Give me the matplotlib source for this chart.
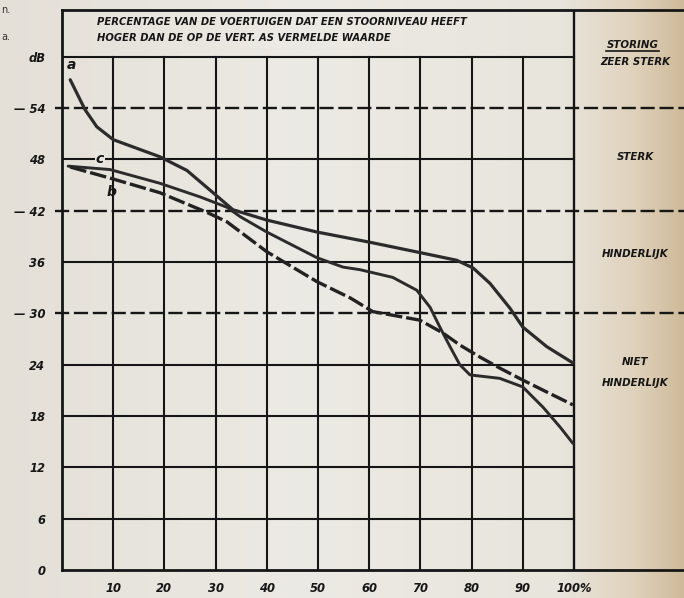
import numpy as np
import matplotlib
matplotlib.use("Agg")
import matplotlib.pyplot as plt

# waarden
pct_a = [1.6, 4.5, 6.8, 10, 15, 19.1, 24.4, 29.5, 33.4, 40, 49.8, 60.2, 69.9, 77.1, 80.3, 83.6, 87.5, 90, 94.7, 99.8]
db_a = [57.3, 53.8, 51.8, 50.3, 49.2, 48.3, 46.7, 44.1, 42.1, 40.9, 39.5, 38.3, 37.1, 36.2, 35.3, 33.5, 30.6, 28.4, 26.1, 24.2]

pct_b = [1.2, 9.4, 19.1, 27, 32.2, 34.8, 40, 49.8, 54.9, 58.2, 64.6, 69.3, 71.9, 73.8, 75.8, 77.7, 79.7, 85.5, 90, 94, 97.3, 99.8]
db_b = [47.2, 46.8, 45.2, 43.6, 42.4, 41.3, 39.5, 36.5, 35.4, 35.1, 34.2, 32.7, 30.7, 28.4, 26.1, 24.0, 22.8, 22.4, 21.4, 19.0, 16.7, 14.8]

pct_c = [1.6, 9.4, 19.1, 28.3, 32.2, 40, 49.8, 56.3, 60.7, 69.9, 74.4, 77.7, 81.6, 85.5, 90, 94.7, 99.8]
db_c = [47.1, 45.8, 44.1, 41.8, 40.7, 37.2, 33.7, 31.8, 30.2, 29.2, 27.7, 26.3, 24.9, 23.6, 22.2, 20.8, 19.3]

x_ticks = [10, 20, 30, 40, 50, 60, 70, 80, 90, 100]
x_labels = ["10", "20", "30", "40", "50", "60", "70", "80", "90", "100%"]
y_ticks = [0, 6, 12, 18, 24, 30, 36, 42, 48, 54, 60]
y_labels = ["0", "6", "12", "18", "24", "— 30", "36", "— 42", "48", "— 54", "dB"]
limit_lines = [54, 42, 30]

title_lines = ["PERCENTAGE VAN DE VOERTUIGEN DAT EEN STOORNIVEAU HEEFT",
               "HOGER DAN DE OP DE VERT. AS VERMELDE WAARDE"]
zones = [("ZEER STERK", 59.4), ("STERK", 48.3), ("HINDERLIJK", 36.9), ("NIET", 24.3), ("HINDERLIJK", 21.9)]

ink = "#161616"
font = dict(family="DejaVu Sans", weight="bold", style="italic", color=ink)

fig = plt.figure(figsize=(6.84, 5.98), dpi=100)

# papier achtergrond (licht naar bruin aan de rechterkant)
bg = fig.add_axes([0, 0, 1, 1])
px = np.arange(684)
stops = [0, 300, 560, 630, 684]
cols = np.array([[228, 224, 216], [236, 234, 228], [232, 229, 221], [224, 211, 190], [206, 186, 153]]) / 255
grad = np.stack([np.interp(px, stops, cols[:, i]) for i in range(3)], axis=-1)
bg.imshow(grad[np.newaxis, :, :], aspect="auto", extent=[0, 1, 0, 1])
bg.axis("off")

ax = fig.add_axes([62 / 684, 28 / 598, 622 / 684, 560 / 598])
ax.set_facecolor("none")
ax.set_xlim(0, 121.5)
ax.set_ylim(0, 65.45)

# raster
for y in range(6, 49, 6):
    if y not in limit_lines:
        ax.plot([0, 100], [y, y], color=ink, lw=1.5, zorder=2)
for x in range(10, 100, 10):
    ax.plot([x, x], [0, 60], color=ink, lw=1.5, zorder=2)
ax.plot([100, 100], [0, 65.45], color=ink, lw=1.7, zorder=2)
ax.plot([0, 100], [60, 60], color=ink, lw=1.5, zorder=2)
for y in limit_lines:
    ax.plot([-1.4, 121.5], [y, y], color=ink, lw=1.7, dashes=(6, 2), clip_on=False, zorder=2)

# curves
ax.plot(pct_a, db_a, color="#2b2b2b", lw=2.3, solid_capstyle="round", zorder=3)
ax.plot(pct_b, db_b, color="#2b2b2b", lw=2.1, solid_capstyle="round", zorder=3)
ax.plot(pct_c, db_c, color="#222222", lw=2.4, dashes=(5, 1.2), zorder=3)

ax.text(1.0, 58.6, "a", fontsize=10, **font)
ax.text(8.8, 43.7, "b", fontsize=10, **font)
ax.text(7.4, 48.0, "c", fontsize=10, ha="center", va="center",
        bbox=dict(facecolor="#e9e7e1", edgecolor="none", pad=0.6), zorder=4, **font)

# kop en rechter kolom
for i, line in enumerate(title_lines):
    ax.text(6.8, 64.05 - 1.85 * i, line, fontsize=7.2, va="center", ha="left", **font)
ax.text(111.5, 61.4, "STORING", fontsize=7.4, ha="center", va="center", **font)
ax.plot([106.3, 116.7], [60.6, 60.6], color=ink, lw=1.2)
for label, y in zones:
    ax.text(112, y, label, fontsize=7.4, ha="center", va="center", **font)

fig.text(0.002, 0.978, "n.", fontsize=7, color="#333333")
fig.text(0.002, 0.933, "a.", fontsize=7, color="#333333")

ax.set_xticks(x_ticks)
ax.set_xticklabels(x_labels)
ax.set_yticks(y_ticks)
ax.set_yticklabels(y_labels)
ax.tick_params(length=0)
ax.tick_params(axis="x", pad=9)
ax.tick_params(axis="y", pad=12)
for lab in ax.get_xticklabels() + ax.get_yticklabels():
    lab.set_fontfamily("DejaVu Sans")
    lab.set_fontweight("bold")
    lab.set_fontstyle("italic")
    lab.set_fontsize(8.3)
    lab.set_color(ink)

ax.spines["right"].set_visible(False)
for side in ["left", "bottom", "top"]:
    ax.spines[side].set_linewidth(2)
    ax.spines[side].set_color(ink)

fig.savefig("out.png", dpi=100)
